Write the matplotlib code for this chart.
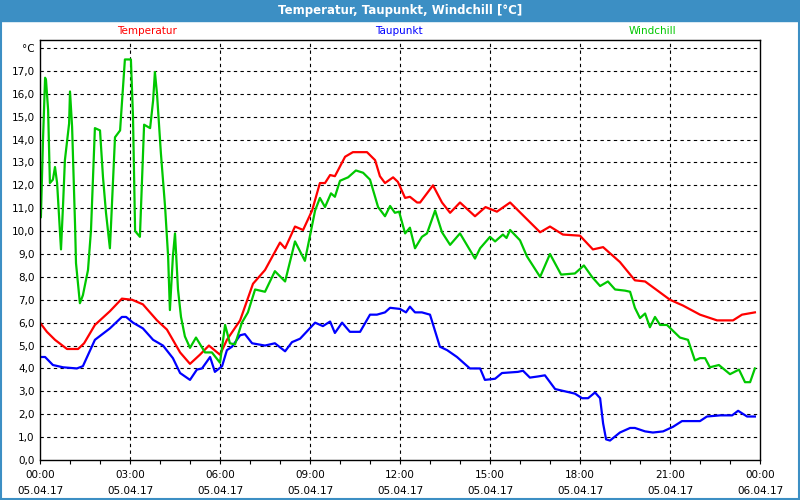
import matplotlib
matplotlib.use("Agg")
import matplotlib.pyplot as plt
from matplotlib.patches import Rectangle

# hours since 05.04.17 00:00
temp_h = [0, 0.23, 0.5, 0.9, 1.27, 1.47, 1.83, 2.33, 2.73, 3.07, 3.43, 3.9, 4.23, 4.67,
          5.0, 5.33, 5.63, 6.0, 6.23, 6.67, 7.1, 7.5, 8.0, 8.17, 8.5, 8.77, 9.07, 9.33,
          9.5, 9.67, 9.83, 10.17, 10.43, 10.9, 11.17, 11.33, 11.5, 11.77, 11.93, 12.17,
          12.33, 12.57, 12.67, 13.1, 13.4, 13.67, 14.0, 14.5, 14.85, 15.23, 15.67, 16.17,
          16.67, 17.0, 17.43, 18.0, 18.43, 18.77, 19.33, 19.83, 20.17, 20.43, 21.0, 21.43,
          22.0, 22.57, 23.1, 23.4, 23.83]
temp_v = [6.0, 5.6, 5.25, 4.85, 4.85, 5.1, 5.9, 6.5, 7.05, 7.0, 6.8, 6.1, 5.7, 4.7,
          4.2, 4.6, 5.0, 4.6, 5.25, 6.1, 7.7, 8.3, 9.5, 9.25, 10.2, 10.05, 10.9, 12.1,
          12.1, 12.45, 12.4, 13.25, 13.45, 13.45, 13.1, 12.4, 12.1, 12.35, 12.15, 11.45,
          11.5, 11.25, 11.25, 12.0, 11.25, 10.8, 11.25, 10.65, 11.05, 10.85, 11.25, 10.6,
          9.95, 10.2, 9.85, 9.8, 9.2, 9.3, 8.65, 7.85, 7.8, 7.55, 7.0, 6.75,
          6.35, 6.1, 6.1, 6.35, 6.45]

dew_h = [0, 0.17, 0.43, 0.77, 1.23, 1.43, 1.83, 2.33, 2.73, 2.87, 3.1, 3.43, 3.77, 4.1,
         4.43, 4.67, 5.0, 5.23, 5.4, 5.67, 5.83, 6.07, 6.23, 6.4, 6.67, 6.83, 7.07, 7.5,
         7.83, 8.17, 8.4, 8.67, 9.17, 9.43, 9.67, 9.83, 10.07, 10.33, 10.67, 11.0, 11.23,
         11.5, 11.67, 12.0, 12.2, 12.33, 12.5, 12.73, 13.0, 13.33, 13.57, 13.9, 14.33,
         14.67, 14.83, 15.17, 15.4, 15.93, 16.1, 16.33, 16.6, 16.83, 17.17, 17.83, 18.07,
         18.27, 18.5, 18.67, 18.77, 18.87, 19.0, 19.33, 19.67, 19.83, 20.17, 20.43, 20.77,
         21.1, 21.4, 22.0, 22.23, 22.67, 23.07, 23.27, 23.57, 23.83]
dew_v = [4.5, 4.5, 4.15, 4.05, 4.0, 4.1, 5.25, 5.75, 6.25, 6.25, 6.0, 5.75, 5.25, 5.0,
         4.45, 3.8, 3.5, 3.95, 4.0, 4.5, 3.85, 4.1, 4.8, 4.95, 5.45, 5.5, 5.1, 5.0,
         5.1, 4.75, 5.15, 5.3, 6.0, 5.85, 6.05, 5.55, 6.0, 5.6, 5.6, 6.35, 6.35,
         6.45, 6.65, 6.6, 6.45, 6.7, 6.45, 6.45, 6.35, 4.95, 4.8, 4.5, 4.0,
         4.0, 3.5, 3.55, 3.8, 3.85, 3.9, 3.6, 3.65, 3.7, 3.1, 2.9, 2.7,
         2.7, 2.95, 2.7, 1.6, 0.9, 0.85, 1.2, 1.4, 1.4, 1.25, 1.2, 1.25,
         1.45, 1.7, 1.7, 1.9, 1.95, 1.95, 2.15, 1.9, 1.9]

chill_h = [0, 0.03, 0.1, 0.17, 0.2, 0.27, 0.33, 0.43, 0.5, 0.57, 0.67, 0.7, 0.77, 0.83,
           0.97, 1.0, 1.07, 1.17, 1.2, 1.33, 1.43, 1.6, 1.7, 1.83, 2.0, 2.1, 2.2, 2.33,
           2.37, 2.5, 2.67, 2.7, 2.83, 3.03, 3.1, 3.17, 3.33, 3.47, 3.67, 3.77, 3.83, 3.9,
           4.03, 4.17, 4.27, 4.33, 4.43, 4.5, 4.6, 4.7, 4.83, 5.0, 5.2, 5.5, 5.73, 6.0,
           6.17, 6.33, 6.5, 6.73, 6.93, 7.17, 7.5, 7.83, 8.17, 8.5, 8.83, 9.17, 9.33, 9.5,
           9.7, 9.83, 10.0, 10.27, 10.53, 10.77, 11.0, 11.27, 11.5, 11.67, 11.83, 11.97,
           12.17, 12.33, 12.5, 12.73, 12.9, 13.17, 13.4, 13.67, 14.0, 14.5, 14.67, 15.0,
           15.17, 15.43, 15.55, 15.67, 16.0, 16.23, 16.67, 17.0, 17.37, 17.83, 18.13, 18.4,
           18.67, 18.93, 19.17, 19.5, 19.67, 19.83, 20.0, 20.17, 20.33, 20.5, 20.67, 20.9,
           21.33, 21.6, 21.83, 22.0, 22.17, 22.33, 22.63, 23.0, 23.3, 23.5, 23.67, 23.83]
chill_v = [10.6, 10.6, 14.0, 16.7, 16.6, 15.3, 12.1, 12.25, 12.8, 12.1, 9.9, 9.2, 11.2, 13.1,
           14.7, 16.1, 14.55, 10.2, 8.6, 6.85, 7.2, 8.3, 10.05, 14.5, 14.4, 12.35, 10.8, 9.25,
           10.35, 14.1, 14.4, 15.0, 17.5, 17.5, 15.0, 10.0, 9.75, 14.65, 14.5, 15.7, 16.95, 16.0,
           13.4, 11.05, 8.9, 6.55, 8.9, 9.9, 7.45, 6.25, 5.4, 4.9, 5.35, 4.7, 4.7, 4.25,
           5.9, 5.1, 5.05, 6.0, 6.45, 7.45, 7.35, 8.25, 7.8, 9.55, 8.7, 10.9, 11.45, 11.05,
           11.65, 11.5, 12.2, 12.35, 12.65, 12.55, 12.25, 11.05, 10.65, 11.1, 10.8, 10.85,
           9.9, 10.15, 9.25, 9.75, 9.9, 10.9, 9.95, 9.4, 9.9, 8.8, 9.25, 9.75,
           9.55, 9.85, 9.7, 10.05, 9.6, 8.9, 8.0, 9.0, 8.1, 8.15, 8.5, 8.0,
           7.6, 7.8, 7.45, 7.4, 7.35, 6.65, 6.2, 6.4, 5.8, 6.25, 5.9, 5.9,
           5.35, 5.25, 4.35, 4.45, 4.45, 4.05, 4.15, 3.75, 3.95, 3.4, 3.4, 4.0]

x_ticks = [0, 3, 6, 9, 12, 15, 18, 21, 24]
x_labels = ["00:00\n05.04.17", "03:00\n05.04.17", "06:00\n05.04.17", "09:00\n05.04.17",
            "12:00\n05.04.17", "15:00\n05.04.17", "18:00\n05.04.17", "21:00\n05.04.17",
            "00:00\n06.04.17"]
y_ticks = list(range(19))
y_labels = [f"{v},0" for v in range(18)] + ["°C"]

BLUE_FRAME = "#3c8fc4"
plt.rcParams.update({"font.family": "DejaVu Sans", "font.size": 7.5})

fig = plt.figure(figsize=(8, 5), dpi=100)
ax = fig.add_axes([0.05, 0.08, 0.9, 0.84])

ax.plot(temp_h, temp_v, color="#ff0000", lw=1.6)
ax.plot(dew_h, dew_v, color="#0000ff", lw=1.6)
ax.plot(chill_h, chill_v, color="#00c800", lw=1.6)

ax.set_xlim(0, 24)
ax.set_ylim(0, 18.35)
ax.set_xticks(x_ticks)
ax.set_xticklabels(x_labels, linespacing=1.75)
ax.set_xticks(range(25), minor=True)
ax.set_yticks(y_ticks)
ax.set_yticklabels(y_labels)
ax.tick_params(axis="x", which="both", length=3, width=0.8, direction="out", pad=4)
ax.tick_params(axis="y", length=0, pad=4)
for s in ax.spines.values():
    s.set_linewidth(1.0)
    s.set_color("black")

dash = (0, (3, 3))
for v in y_ticks[1:]:
    ax.axhline(v, color="black", lw=0.8, ls=dash, zorder=0)
for t in x_ticks[1:-1]:
    ax.axvline(t, color="black", lw=0.8, ls=dash, zorder=0)

# title bar and frame
fig.patches.append(Rectangle((0, 0.958), 1, 0.042, transform=fig.transFigure,
                             color=BLUE_FRAME, zorder=0))
fig.patches.append(Rectangle((0.001, 0.002), 0.998, 0.996, transform=fig.transFigure,
                             fill=False, edgecolor=BLUE_FRAME, lw=1.5, zorder=0))
fig.text(0.5, 0.979, "Temperatur, Taupunkt, Windchill [°C]", color="white",
         fontsize=8.5, fontweight="bold", ha="center", va="center")

fig.text(0.184, 0.937, "Temperatur", color="#ff0000", fontsize=7.5, ha="center", va="center")
fig.text(0.498, 0.937, "Taupunkt", color="#0000ff", fontsize=7.5, ha="center", va="center")
fig.text(0.815, 0.937, "Windchill", color="#00c800", fontsize=7.5, ha="center", va="center")

fig.savefig("out.png", dpi=100)
